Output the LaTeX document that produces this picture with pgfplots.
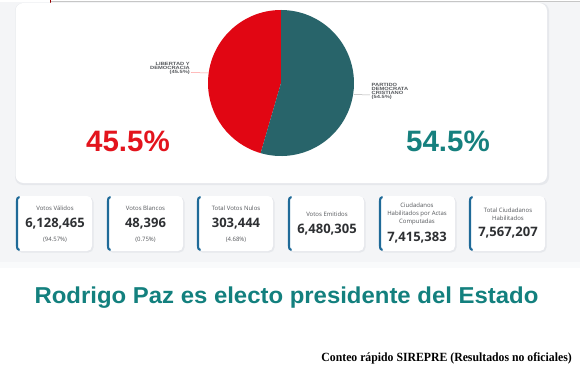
\documentclass[border=0pt]{standalone}
\usepackage{pgfplots}
\pgfplotsset{compat=1.18}
\usepackage{pgfplotstable}
\usepackage{fontspec}
\setmainfont{Liberation Sans}
\newfontfamily\titlefont[FakeStretch=1.04]{Liberation Sans}
\newfontfamily\pielbl[FakeStretch=1.25]{Liberation Sans}
\newfontfamily\cardfont{Open Sans}
\newfontfamily\footfont[FakeStretch=0.94]{Liberation Serif}
\definecolor{pieRed}{HTML}{E10613}
\definecolor{pieTeal}{HTML}{28646A}
\definecolor{txtRed}{HTML}{E3141D}
\definecolor{txtTeal}{HTML}{16807E}
\definecolor{titleTeal}{HTML}{13807E}
\definecolor{accent}{HTML}{1F6A98}
\definecolor{bgGrey}{HTML}{F4F5F7}
\definecolor{shadowGrey}{HTML}{E6E8EC}
\definecolor{numGrey}{HTML}{2E3033}
\definecolor{lblGrey}{HTML}{55585C}

\pgfplotstableread{
party share
LyD 45.5
PDC 54.5
}\votes
\pgfplotstablegetelem{0}{share}\of\votes \let\shareA\pgfplotsretval
\pgfplotstablegetelem{1}{share}\of\votes \let\shareB\pgfplotsretval
\pgfmathsetmacro{\angA}{\shareA*3.6}

\newcommand{\card}[1]{%
  \fill[shadowGrey, rounded corners=5pt] (axis cs:#1+0.5,197) rectangle (axis cs:#1+77.5,252.5);
  \fill[white, rounded corners=5pt] (axis cs:#1,196) rectangle (axis cs:#1+76,251);
  \draw[accent, line width=2.1pt, line cap=round] (axis cs:#1+3,197.2) to[out=180,in=90] (axis cs:#1+1,201) -- (axis cs:#1+1,246) to[out=-90,in=180] (axis cs:#1+3,249.8);
}

\begin{document}
\begin{tikzpicture}[x=1pt,y=1pt]
\path[use as bounding box] (0,0) rectangle (580,374);
\begin{axis}[at={(0,0)}, anchor=south west, width=580pt, height=374pt,
  scale only axis, xmin=0, xmax=580, ymin=0, ymax=374, y dir=reverse,
  hide axis, clip=false]
% backgrounds
\fill[white] (axis cs:0,0) rectangle (axis cs:580,374);
\fill[bgGrey] (axis cs:0,2) rectangle (axis cs:580,262);
\fill[bgGrey!50!white] (axis cs:0,262) rectangle (axis cs:580,268);
\draw[gray!45, line width=0.8pt] (axis cs:50,1) -- (axis cs:580,1);
\draw[red!60!black, line width=0.6pt] (axis cs:50.5,0) -- (axis cs:50.5,8);
% upper card
\fill[shadowGrey, rounded corners=8pt] (axis cs:15,3) rectangle (axis cs:549,185);
\fill[white, rounded corners=8pt] (axis cs:15.5,3) rectangle (axis cs:547,183);
% pie
\fill[pieRed] (axis cs:281,83) -- ++(90:73pt) arc[start angle=90, end angle={90+\angA}, radius=73pt] -- cycle;
\fill[pieTeal] (axis cs:281,83) -- ++({90+\angA}:73pt) arc[start angle={90+\angA}, end angle=450, radius=73pt] -- cycle;
% pie labels
\draw[red!40, line width=0.5pt] (axis cs:191,72.5) -- (axis cs:208.5,73);
\draw[gray!60, line width=0.5pt] (axis cs:354,94.5) -- (axis cs:370,95);
\node[anchor=east, align=right, inner sep=0pt, text=lblGrey, font=\pielbl\bfseries\fontsize{4.6}{4.2}\selectfont] at (axis cs:190,68.3) {LIBERTAD Y\\DEMOCRACIA\\(45.5\%)};
\node[anchor=west, align=left, inner sep=0pt, text=lblGrey, font=\pielbl\bfseries\fontsize{4.6}{4.0}\selectfont] at (axis cs:371.5,91) {PARTIDO\\DEMOCRATA\\CRISTIANO\\(54.5\%)};
% percentages
\node[anchor=base, inner sep=0pt, text=txtRed, font=\bfseries\fontsize{29.5}{30}\selectfont] at (axis cs:128,151.5) {\shareA\%};
\node[anchor=base, inner sep=0pt, text=txtTeal, font=\bfseries\fontsize{29.5}{30}\selectfont] at (axis cs:448,151.5) {\shareB\%};
% cards
\card{16}\card{107}\card{197}\card{288}\card{379}\card{469}
\tikzset{lbl/.style={inner sep=0pt, text=lblGrey, align=center, font=\cardfont\fontsize{6.0}{7.9}\selectfont},
         num/.style={inner sep=0pt, text=numGrey, font=\cardfont\bfseries\fontsize{13}{14}\selectfont}}
\node[lbl] at (axis cs:55,208) {Votos Válidos};
\node[num] at (axis cs:55,223.5) {6,128,465};
\node[lbl] at (axis cs:55,239.5) {(94.57\%)};
\node[lbl] at (axis cs:145.5,208) {Votos Blancos};
\node[num] at (axis cs:145.5,223.5) {48,396};
\node[lbl] at (axis cs:145.5,239.5) {(0.75\%)};
\node[lbl] at (axis cs:236,208) {Total Votos Nulos};
\node[num] at (axis cs:236,223.5) {303,444};
\node[lbl] at (axis cs:236,239.5) {(4.68\%)};
\node[lbl] at (axis cs:327,214) {Votos Emitidos};
\node[num] at (axis cs:327,230) {6,480,305};
\node[lbl] at (axis cs:417,214) {Ciudadanos\\Habilitados por Actas\\Computadas};
\node[num] at (axis cs:417,238) {7,415,383};
\node[lbl] at (axis cs:508,214.5) {Total Ciudadanos\\Habilitados};
\node[num] at (axis cs:508,233) {7,567,207};
% title
\node[anchor=base, inner sep=0pt, text=titleTeal, font=\titlefont\bfseries\fontsize{23}{25}\selectfont] at (axis cs:286.5,303.5) {Rodrigo Paz es electo presidente del Estado};
% footer
\node[anchor=base east, inner sep=0pt, text=black, font=\footfont\bfseries\fontsize{12.5}{14}\selectfont] at (axis cs:572,361) {Conteo rápido SIREPRE (Resultados no oficiales)};
\end{axis}
\end{tikzpicture}
\end{document}
